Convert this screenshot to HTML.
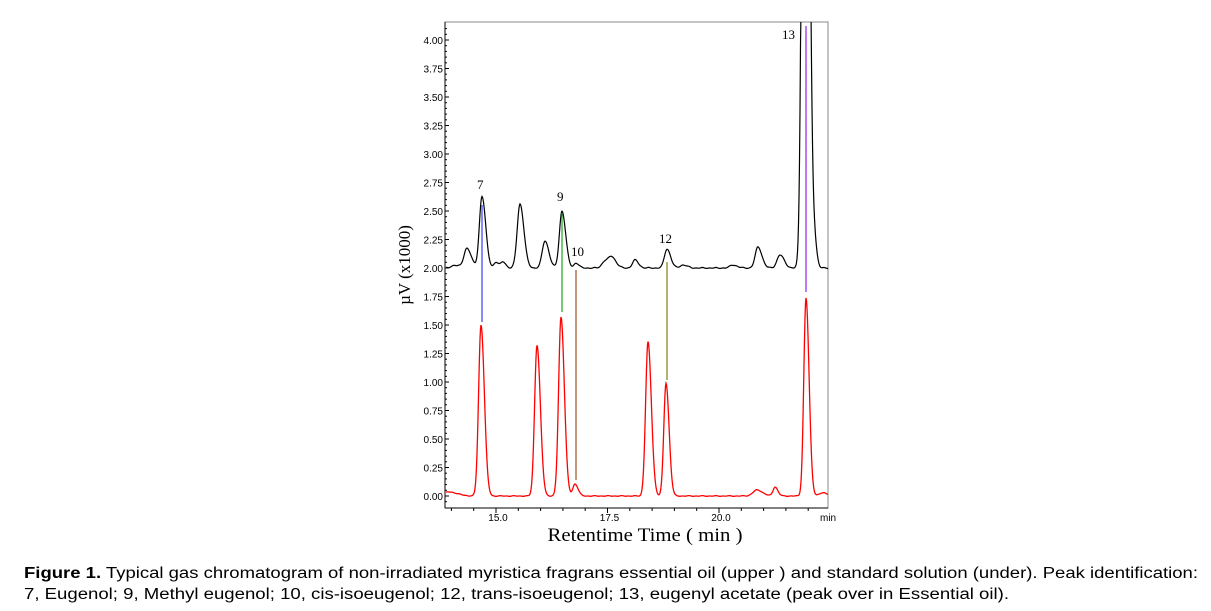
<!DOCTYPE html>
<html><head><meta charset="utf-8"><style>
html,body{margin:0;padding:0;background:#fff;width:1211px;height:611px;overflow:hidden}
</style></head><body>
<svg id="s" width="1211" height="611" xmlns="http://www.w3.org/2000/svg" font-family="Liberation Sans, sans-serif">
<defs><clipPath id="c"><rect x="445" y="22" width="383" height="486"/></clipPath></defs>
<rect x="445" y="22" width="383" height="486" fill="none" stroke="#888" stroke-width="1"/>
<line x1="445" y1="22" x2="445" y2="508" stroke="#000"/>
<line x1="445" y1="508" x2="828" y2="508" stroke="#000"/>
<g id="ticks" font-size="10" fill="#000" text-anchor="end"></g>
<g id="xt" font-size="10" fill="#000" text-anchor="middle"></g>
<text x="820" y="521" font-size="10">min</text>
<g clip-path="url(#c)">
<path id="up" fill="none" stroke="#000" stroke-width="1.2"/>
<path id="lo" fill="none" stroke="#f00" stroke-width="1.3"/>
</g>
<line x1="482" y1="205" x2="482" y2="322" stroke="#3344ee" stroke-width="1.2"/>
<line x1="562" y1="213" x2="562" y2="312" stroke="#22a022" stroke-width="1.2"/>
<line x1="576" y1="270" x2="576" y2="480" stroke="#a05020" stroke-width="1.2"/>
<line x1="667" y1="262" x2="667" y2="380" stroke="#808010" stroke-width="1.2"/>
<line x1="806" y1="26" x2="806" y2="292" stroke="#9020ee" stroke-width="1.2"/>
<g font-family="Liberation Serif, serif" font-size="13" fill="#000">
<text x="477" y="189">7</text><text x="557" y="201">9</text><text x="571" y="256">10</text>
<text x="659" y="243">12</text><text x="782" y="39">13</text>
</g>
<text x="645" y="541" font-family="Liberation Serif, serif" font-size="19" text-anchor="middle" textLength="195" lengthAdjust="spacingAndGlyphs">Retentime Time ( min )</text>
<text transform="translate(410,265) rotate(-90)" font-family="Liberation Serif, serif" font-size="17" text-anchor="middle">µV (x1000)</text>
<text x="24" y="578" font-size="15.5" textLength="1174" lengthAdjust="spacingAndGlyphs"><tspan font-weight="bold">Figure 1.</tspan> Typical gas chromatogram of non-irradiated myristica fragrans essential oil (upper ) and standard solution (under). Peak identification:</text>
<text x="24" y="599" font-size="15.5" textLength="985" lengthAdjust="spacingAndGlyphs">7, Eugenol; 9, Methyl eugenol; 10, cis-isoeugenol; 12, trans-isoeugenol; 13, eugenyl acetate (peak over in Essential oil).</text>
</svg>
<script>
var NS="http://www.w3.org/2000/svg";
var tg=document.getElementById('ticks'),xg=document.getElementById('xt');
function el(n,a,p){var e=document.createElementNS(NS,n);for(var k in a)e.setAttribute(k,a[k]);p.appendChild(e);return e;}
for(var i=0;i<=16;i++){var y=496-i*28.5;var t=el('text',{x:443,y:y+4},tg);t.textContent=(i*0.25).toFixed(2);
 el('line',{x1:445,y1:y,x2:449,y2:y,stroke:'#000'},tg);}
for(var y=496+5.7;y>24;y-=5.7)el('line',{x1:445,y1:y,x2:447,y2:y,stroke:'#000'},tg);
[[15,'15.0'],[17.5,'17.5'],[20,'20.0']].forEach(function(a){var x=496+(a[0]-15)*44.6;var t=el('text',{x:x+2,y:521},xg);t.textContent=a[1];});
for(var m=14;m<=22.4;m+=0.5){var x=496+(m-15)*44.6;el('line',{x1:x,y1:508,x2:x,y2:(m%2.5==0)?513:511,stroke:'#000'},xg);}
function build(base,peaks,noise){var d='';for(var x=446;x<=828;x+=0.5){var y=base;peaks.forEach(function(p){var s=x<p[0]?p[2]:p[2]*1.4;y-=p[1]*Math.exp(-Math.pow(x-p[0],2)/(2*s*s));});
 y+=noise*Math.sin(x*0.7)*Math.sin(x*0.23);if(y<10)y=10;d+=(x==446?'M':'L')+x+' '+y.toFixed(1);}return d;}
document.getElementById('up').setAttribute('d',build(268,[[455,3,3],[467,20,3],[482,72,2.6],[496,6,2],[503,6,2],[520,64,2.8],[545,27,2.8],[562,57,2.6],[576,5,2],[605,7,3],[612,10,3],[635,8,2.5],[667,19,2.6],[683,3,3],[733,3,3],[758,21,2.8],[780,13,3],[805,1000,2.6],[815,18,1.6]],0.6));
document.getElementById('lo').setAttribute('d',build(496,[[449,4,6],[481,171,2.4],[537,151,2.4],[561,179,2.4],[575,12,2.2],[648,154,2.4],[666,113,2.2],[757,6,4],[775,9,2],[806,198,2.2],[823,3,4]],0.4));
</script>
</body></html>
